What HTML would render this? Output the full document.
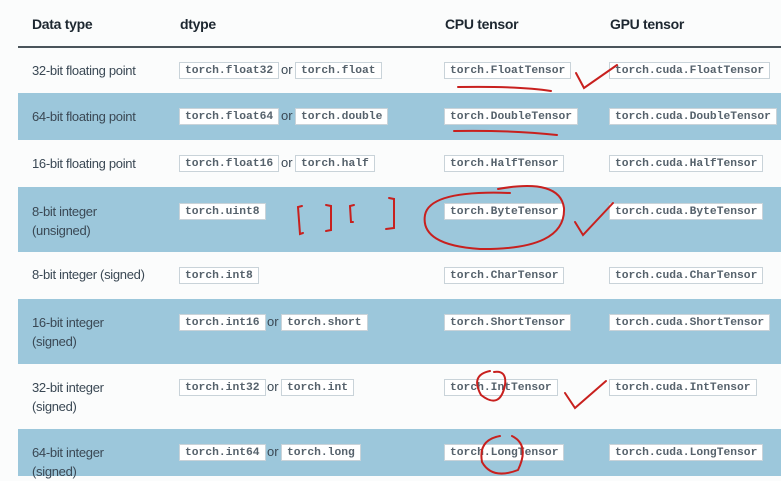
<!DOCTYPE html>
<html><head><meta charset="utf-8"><style>
*{margin:0;padding:0;box-sizing:border-box}
body{width:781px;height:476px;overflow:hidden;background:#fbfcfc;position:relative;font-family:"Liberation Sans",sans-serif;color:#3c4a55}
.row{position:absolute;left:18px;right:0}
.b{background:#9cc7db}
.w{background:#fbfcfc}
.h{position:absolute;top:16px;font-weight:bold;font-size:14px;color:#1d2730;letter-spacing:-0.3px}
.t{position:absolute;font-size:13px;line-height:19px;color:#3a4854;letter-spacing:-0.3px}
.c{position:absolute;height:17px;line-height:17px;background:#fff;border:1px solid #c9d3d9;padding:0 5px;font-family:"Liberation Mono",monospace;font-size:11.3px;font-weight:bold;color:#56626c;white-space:nowrap}
.c::before{content:"";display:inline-block;height:1px}
.o{position:absolute;font-size:13px;color:#3a4854}
svg{position:absolute;left:0;top:0}
</style></head><body>
<div class="h" style="left:32px">Data type</div>
<div class="h" style="left:180px">dtype</div>
<div class="h" style="left:445px">CPU tensor</div>
<div class="h" style="left:610px">GPU tensor</div>
<div class="row" style="top:46px;height:2px;background:#4a545b"></div>
<div class="row w" style="top:48px;height:45px"></div>
<div class="row b" style="top:93px;height:47px"></div>
<div class="row w" style="top:140px;height:47px"></div>
<div class="row b" style="top:187px;height:65px"></div>
<div class="row w" style="top:252px;height:47px"></div>
<div class="row b" style="top:299px;height:65px"></div>
<div class="row w" style="top:364px;height:65px"></div>
<div class="row b" style="top:429px;height:47px"></div>

<div class="t" style="left:32px;top:61px">32-bit floating point</div>
<div class="c" style="left:179px;top:62px">torch.float32</div><div class="o" style="left:281px;top:62px">or</div><div class="c" style="left:295px;top:62px">torch.float</div>
<div class="c" style="left:444px;top:62px">torch.FloatTensor</div>
<div class="c" style="left:609px;top:62px">torch.cuda.FloatTensor</div>

<div class="t" style="left:32px;top:107px">64-bit floating point</div>
<div class="c" style="left:179px;top:108px">torch.float64</div><div class="o" style="left:281px;top:108px">or</div><div class="c" style="left:295px;top:108px">torch.double</div>
<div class="c" style="left:444px;top:108px">torch.DoubleTensor</div>
<div class="c" style="left:609px;top:108px">torch.cuda.DoubleTensor</div>

<div class="t" style="left:32px;top:154px">16-bit floating point</div>
<div class="c" style="left:179px;top:155px">torch.float16</div><div class="o" style="left:281px;top:155px">or</div><div class="c" style="left:295px;top:155px">torch.half</div>
<div class="c" style="left:444px;top:155px">torch.HalfTensor</div>
<div class="c" style="left:609px;top:155px">torch.cuda.HalfTensor</div>

<div class="t" style="left:32px;top:202px">8-bit integer<br>(unsigned)</div>
<div class="c" style="left:179px;top:203px">torch.uint8</div>
<div class="c" style="left:444px;top:203px">torch.ByteTensor</div>
<div class="c" style="left:609px;top:203px">torch.cuda.ByteTensor</div>

<div class="t" style="left:32px;top:265px">8-bit integer (signed)</div>
<div class="c" style="left:179px;top:267px">torch.int8</div>
<div class="c" style="left:444px;top:267px">torch.CharTensor</div>
<div class="c" style="left:609px;top:267px">torch.cuda.CharTensor</div>

<div class="t" style="left:32px;top:313px">16-bit integer<br>(signed)</div>
<div class="c" style="left:179px;top:314px">torch.int16</div><div class="o" style="left:267px;top:314px">or</div><div class="c" style="left:281px;top:314px">torch.short</div>
<div class="c" style="left:444px;top:314px">torch.ShortTensor</div>
<div class="c" style="left:609px;top:314px">torch.cuda.ShortTensor</div>

<div class="t" style="left:32px;top:378px">32-bit integer<br>(signed)</div>
<div class="c" style="left:179px;top:379px">torch.int32</div><div class="o" style="left:267px;top:379px">or</div><div class="c" style="left:281px;top:379px">torch.int</div>
<div class="c" style="left:444px;top:379px">torch.IntTensor</div>
<div class="c" style="left:609px;top:379px">torch.cuda.IntTensor</div>

<div class="t" style="left:32px;top:443px">64-bit integer<br>(signed)</div>
<div class="c" style="left:179px;top:444px">torch.int64</div><div class="o" style="left:267px;top:444px">or</div><div class="c" style="left:281px;top:444px">torch.long</div>
<div class="c" style="left:444px;top:444px">torch.LongTensor</div>
<div class="c" style="left:609px;top:444px">torch.cuda.LongTensor</div>

<svg width="781" height="476" fill="none" stroke="#c8201e" stroke-width="2" stroke-linecap="round">
<path d="M458 87 Q520 86 551 91"/>
<path d="M454 131 Q510 130 557 135"/>
<path d="M576 73 L584 88 L617 65"/>
<path d="M575 222 L583 235 L613 203"/>
<path d="M565 393 L575 408 L606 381"/>
<path d="M498 189 Q560 178 564 208 Q566 250 480 249 Q420 245 425 215 Q430 190 510 193"/>
<path d="M302 206 L298 207 L300 234 L303 233"/>
<path d="M326 205 L331 206 L331 230 L326 231"/>
<path d="M354 205 L350 206 L351 222 L353 222"/>
<path d="M389 198 L394 199 L394 228 L386 229"/>
<path d="M490 371 Q470 375 481 395 Q500 410 505 385 Q507 370 494 372"/>
<path d="M500 436 Q478 440 482 462 Q492 480 518 470 Q530 445 512 436"/>
</svg>
</body></html>
